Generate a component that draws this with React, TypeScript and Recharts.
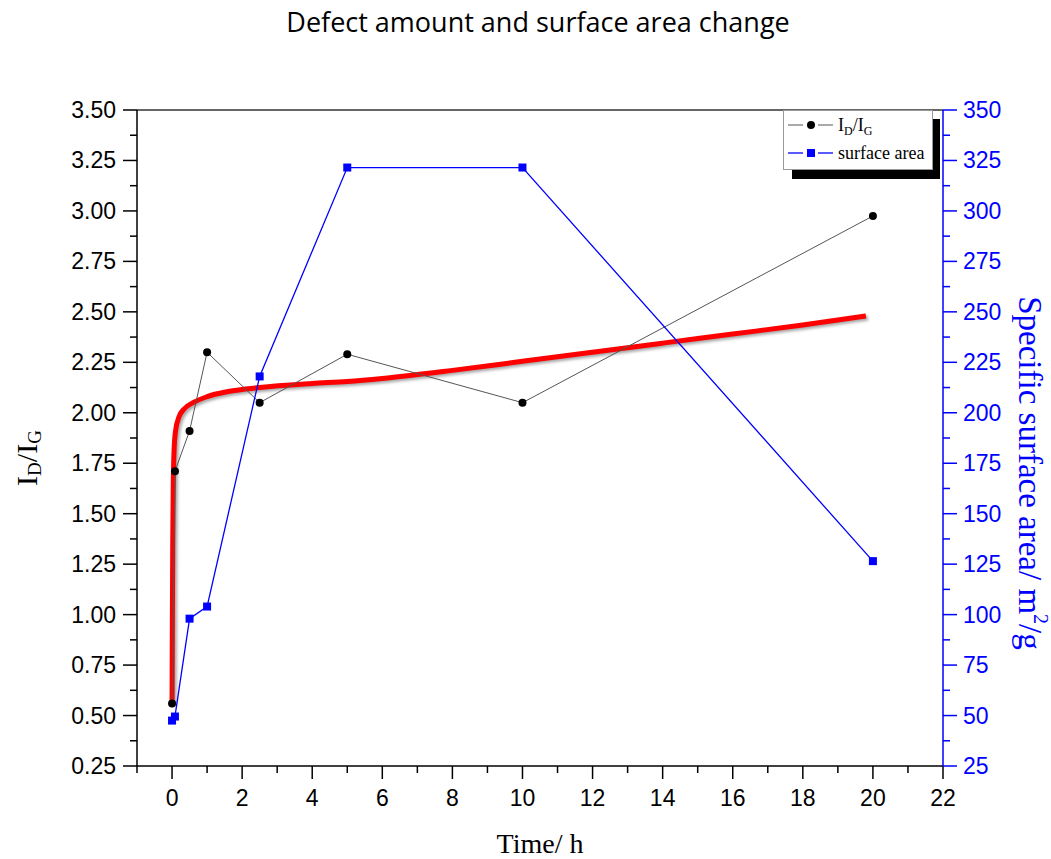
import { ComposedChart, Line, XAxis, YAxis, ReferenceLine, Legend } from "recharts";

// measured points
const timeH = [0, 0.083, 0.5, 1, 2.5, 5, 10, 20];
const idIg = [0.56, 1.71, 1.91, 2.3, 2.05, 2.29, 2.05, 2.975];
const surfaceArea = [47.5, 49.5, 98, 104, 218, 321.5, 321.5, 126.5];

// fitted trend (red)
const fitTime = [0, 0.01, 0.02, 0.035, 0.06, 0.1, 0.2, 0.35, 0.6, 1, 1.6, 2.5, 4, 5, 6, 8, 10, 12, 14, 16, 18, 19.8];
const fitIdIg = [0.56, 1.0, 1.35, 1.65, 1.82, 1.91, 1.98, 2.02, 2.05, 2.08, 2.105, 2.125, 2.145, 2.155, 2.17, 2.21, 2.255, 2.3, 2.345, 2.39, 2.435, 2.48];

const xMajorTicks = [0, 2, 4, 6, 8, 10, 12, 14, 16, 18, 20, 22];
const xMinorTicks = [-1, 1, 3, 5, 7, 9, 11, 13, 15, 17, 19, 21];
const leftMajorTicks = [0.25, 0.5, 0.75, 1, 1.25, 1.5, 1.75, 2, 2.25, 2.5, 2.75, 3, 3.25, 3.5];
const rightMajorTicks = [25, 50, 75, 100, 125, 150, 175, 200, 225, 250, 275, 300, 325, 350];

const withMinor = (major: number[]) => {
  const out: number[] = [];
  major.forEach((v, i) => {
    out.push(v);
    if (i < major.length - 1) out.push((v + major[i + 1]) / 2);
  });
  return out;
};

const idData = timeH.map((t, i) => ({ x: t, y: idIg[i] }));
const saData = timeH.map((t, i) => ({ x: t, y: surfaceArea[i] }));
const fitData = fitTime.map((t, i) => ({ x: t, y: fitIdIg[i] }));

const BLUE = "#0000ff";
const tickFont = "'Liberation Sans', Arial, sans-serif";
const serif = "'Liberation Serif', 'Times New Roman', serif";
const TICK_SIZE = 23;

const XTick = ({ x, y, payload }: any) => {
  const major = xMajorTicks.includes(payload.value);
  return (
    <g>
      <line x1={x} x2={x} y1={y} y2={y + (major ? 13 : 7)} stroke="#000" strokeWidth={1.5} />
      {major && (
        <text x={x} y={y + 40} textAnchor="middle" fontSize={TICK_SIZE} fontFamily={tickFont} fill="#000">
          {payload.value}
        </text>
      )}
    </g>
  );
};

const LeftTick = ({ x, y, payload }: any) => {
  const major = leftMajorTicks.includes(payload.value);
  return (
    <g>
      <line x1={x} x2={x - (major ? 14 : 7)} y1={y} y2={y} stroke="#000" strokeWidth={1.5} />
      {major && (
        <text x={x - 21} y={y + 8} textAnchor="end" fontSize={TICK_SIZE} fontFamily={tickFont} fill="#000">
          {payload.value.toFixed(2)}
        </text>
      )}
    </g>
  );
};

const RightTick = ({ x, y, payload }: any) => {
  const major = rightMajorTicks.includes(payload.value);
  return (
    <g>
      <line x1={x} x2={x + (major ? 14 : 7)} y1={y} y2={y} stroke={BLUE} strokeWidth={1.5} />
      {major && (
        <text x={x + 20} y={y + 8} textAnchor="start" fontSize={TICK_SIZE} fontFamily={tickFont} fill={BLUE}>
          {payload.value}
        </text>
      )}
    </g>
  );
};

const SquareDot = (props: any) => {
  const { cx, cy, index } = props;
  if (cx == null || cy == null) return null;
  return <rect key={`sq-${index}`} x={cx - 4} y={cy - 4} width={8} height={8} fill={BLUE} />;
};

const LeftLabel = () => (
  <text
    x={30}
    y={458}
    transform="rotate(-90, 30, 458)"
    textAnchor="middle"
    dominantBaseline="middle"
    fontSize={30}
    fontFamily={serif}
    fill="#000"
  >
    I<tspan fontSize={19} dy={7}>D</tspan>
    <tspan dy={-7}>/I</tspan>
    <tspan fontSize={19} dy={7}>G</tspan>
  </text>
);

const RightLabel = () => (
  <text
    x={1027}
    y={473}
    transform="rotate(90, 1027, 473)"
    textAnchor="middle"
    dominantBaseline="middle"
    fontSize={33}
    fontFamily={serif}
    fill={BLUE}
  >
    Specific surface area/ m<tspan fontSize={20} dy={-12}>2</tspan>
    <tspan dy={12}>/g</tspan>
  </text>
);

const BottomLabel = () => (
  <text x={540} y={853} textAnchor="middle" fontSize={28} fontFamily={serif} fill="#000">
    Time/ h
  </text>
);

const LegendBox = () => (
  <svg width={162} height={74} style={{ display: "block", overflow: "visible" }}>
    <rect x={9} y={9} width={148} height={60} fill="#000" />
    <rect x={0.5} y={0.5} width={149} height={59} fill="#fff" stroke="#999" strokeWidth={1} />
    <line x1={5} x2={20} y1={15} y2={15} stroke="#555" strokeWidth={1} />
    <line x1={35} x2={50} y1={15} y2={15} stroke="#555" strokeWidth={1} />
    <circle cx={28} cy={15} r={4} fill="#000" />
    <text x={55} y={21} fontSize={18} fontFamily={serif} fill="#000">
      I<tspan fontSize={12} dy={4}>D</tspan>
      <tspan dy={-4}>/I</tspan>
      <tspan fontSize={12} dy={4}>G</tspan>
    </text>
    <line x1={5} x2={20} y1={43} y2={43} stroke={BLUE} strokeWidth={1.3} />
    <line x1={35} x2={50} y1={43} y2={43} stroke={BLUE} strokeWidth={1.3} />
    <rect x={24} y={39} width={8} height={8} fill={BLUE} />
    <text x={55} y={49} fontSize={18} fontFamily={serif} fill="#000">
      surface area
    </text>
  </svg>
);

export default function App() {
  return (
    <div style={{ position: "absolute", left: 0, top: 0, width: 1051, height: 859, background: "#fff" }}>
      <style>{`.fit-line path { filter: drop-shadow(2px 2px 1.5px rgba(0,0,0,0.35)); }`}</style>
      <div
        style={{
          position: "absolute",
          left: 0,
          top: 3,
          width: 1076,
          textAlign: "center",
          fontFamily: "'Open Sans', sans-serif",
          fontSize: 27,
          lineHeight: "38px",
          color: "#000",
        }}
      >
        Defect amount and surface area change
      </div>
      <ComposedChart width={1051} height={859} margin={{ top: 110, right: 48, bottom: 33, left: 77 }}>
        <XAxis
          type="number"
          dataKey="x"
          domain={[-1, 22]}
          ticks={[...xMinorTicks, ...xMajorTicks].sort((a, b) => a - b)}
          interval={0}
          tick={<XTick />}
          tickLine={false}
          tickSize={0}
          tickMargin={0}
          height={60}
          axisLine={{ stroke: "#000", strokeWidth: 1.5 }}
          label={{ content: <BottomLabel /> }}
        />
        <YAxis
          yAxisId="left"
          type="number"
          domain={[0.25, 3.5]}
          ticks={withMinor(leftMajorTicks)}
          interval={0}
          tick={<LeftTick />}
          tickLine={false}
          tickSize={0}
          tickMargin={0}
          width={60}
          axisLine={{ stroke: "#000", strokeWidth: 1.5 }}
          label={{ content: <LeftLabel /> }}
        />
        <YAxis
          yAxisId="right"
          orientation="right"
          type="number"
          domain={[25, 350]}
          ticks={withMinor(rightMajorTicks)}
          interval={0}
          tick={<RightTick />}
          tickLine={false}
          tickSize={0}
          tickMargin={0}
          width={60}
          axisLine={{ stroke: BLUE, strokeWidth: 1.5 }}
          label={{ content: <RightLabel /> }}
        />
        <ReferenceLine yAxisId="left" y={3.5} stroke="#333" strokeWidth={1.5} />
        <Line
          className="fit-line"
          yAxisId="left"
          data={fitData}
          dataKey="y"
          type="monotone"
          stroke="#ff0000"
          strokeWidth={5}
          dot={false}
          activeDot={false}
          isAnimationActive={false}
          legendType="none"
        />
        <Line
          yAxisId="left"
          data={idData}
          dataKey="y"
          name="ID/IG"
          type="linear"
          stroke="#555"
          strokeWidth={1}
          dot={{ r: 4, fill: "#000", stroke: "#000", strokeWidth: 0 }}
          activeDot={false}
          isAnimationActive={false}
        />
        <Line
          yAxisId="right"
          data={saData}
          dataKey="y"
          name="surface area"
          type="linear"
          stroke={BLUE}
          strokeWidth={1.3}
          dot={<SquareDot />}
          activeDot={false}
          isAnimationActive={false}
        />
        <Legend
          layout="vertical"
          align="center"
          verticalAlign="middle"
          content={<LegendBox />}
          wrapperStyle={{ left: 783, top: 110, width: 162, height: 74 }}
        />
      </ComposedChart>
    </div>
  );
}
